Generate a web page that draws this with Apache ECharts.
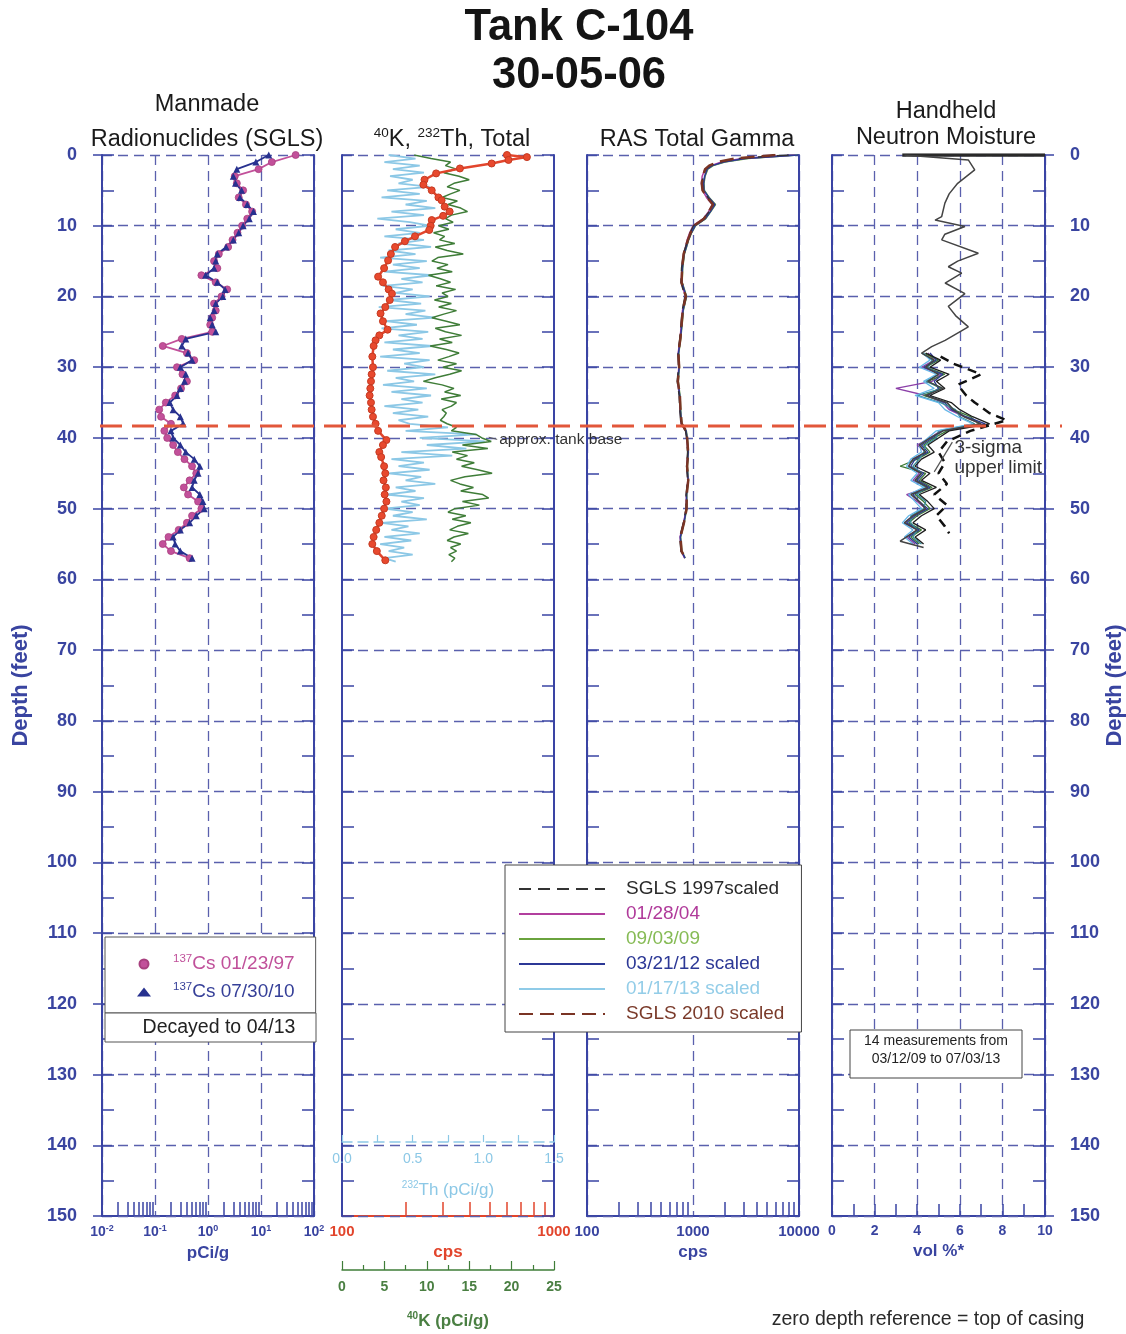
<!DOCTYPE html>
<html>
<head>
<meta charset="utf-8">
<title>Tank C-104 30-05-06</title>
<script src="https://cdn.jsdelivr.net/npm/echarts@6/dist/echarts.min.js"></script>
<style>
  html, body { margin: 0; padding: 0; background: #ffffff; }
  #chart { width: 1126px; height: 1334px; }
</style>
</head>
<body>
<div id="chart"></div>
<script>
// ---------------- data ----------------
// Manmade radionuclides (SGLS), 137Cs in pCi/g vs depth (ft)
const depthCs = [0,1,2,3,4,5,6,7,8,9,10,11,12,13,14,15,16,17,18,19,20,21,22,23,24,25,26,27,28,29,30,31,32,33,34,35,36,37,38,39,40,41,42,43,44,45,46,47,48,49,50,51,52,53,54,55,56,57];
const cs1997 = [45,16,9,3.2,3.5,4.6,3.8,5.2,6.8,5.5,4.4,3.6,2.9,2.4,1.6,1.3,1.5,0.75,1.4,2.3,1.8,1.3,1.4,1.2,1.1,1.2,0.32,0.14,0.4,0.55,0.26,0.33,0.40,0.31,0.24,0.16,0.12,0.13,0.20,0.15,0.17,0.22,0.27,0.36,0.5,0.6,0.45,0.35,0.42,0.65,0.75,0.5,0.4,0.28,0.18,0.14,0.2,0.45];
const cs2010 = [14,8,3.5,3.0,3.3,4.3,4.0,5.5,7.2,6.0,4.6,3.8,3.0,2.2,1.5,1.4,1.3,0.9,1.5,2.1,1.9,1.4,1.3,1.1,1.2,1.4,0.38,0.32,0.42,0.50,0.30,0.38,0.36,0.30,0.26,0.19,0.22,0.30,0.34,0.2,0.22,0.3,0.38,0.55,0.7,0.65,0.55,0.5,0.7,0.8,0.85,0.6,0.45,0.3,0.22,0.24,0.3,0.5];

// Total gamma (cps) vs depth
const depthTotal = [0,0.3,0.7,1.2,1.9,2.6,3.5,4.2,5,6,6.4,7.3,8,8.6,9.2,10,10.6,11.5,12.2,13,14,14.9,16,17.2,18,19,19.6,20.5,21.5,22.4,23.5,24.7,25.5,26.2,27,28.5,30,31,32,33,34,35,36,37,38,39,40.3,41,42,42.7,44,45,46,47,48,49,50,51,52,53,54,55,56,57.3];
const totalCps = [600,745,610,508,360,278,245,242,265,285,295,305,322,300,265,262,258,221,198,178,170,165,158,148,156,166,172,168,160,152,156,164,150,144,141,139,140,138,137,136,135,137,138,140,144,148,162,156,150,153,158,160,157,161,159,162,158,154,150,145,141,139,146,160];

// Natural radionuclides 40K and 232Th (pCi/g) vs depth
const depthNat = [0,0.5,1,1.5,2,2.5,3,3.5,4,4.5,5,5.5,6,6.5,7,7.5,8,8.5,9,9.5,10,10.5,11,11.5,12,12.5,13,13.5,14,14.5,15,15.5,16,16.5,17,17.5,18,18.5,19,19.5,20,20.5,21,21.5,22,22.5,23,23.5,24,24.5,25,25.5,26,26.5,27,27.5,28,28.5,29,29.5,30,30.5,31,31.5,32,32.5,33,33.5,34,34.5,35,35.5,36,36.5,37,37.5,38,38.5,39,39.5,40,40.5,41,41.5,42,42.5,43,43.5,44,44.5,45,45.5,46,46.5,47,47.5,48,48.5,49,49.5,50,50.5,51,51.5,52,52.5,53,53.5,54,54.5,55,55.5,56,56.5,57,57.5];
const k40 = [8.5,10.5,12.8,12.2,13.5,12.0,13.8,15.0,13.2,12.4,
  13.9,12.8,11.8,13.6,12.5,14.0,14.8,12.9,12.2,13.1,
  11.4,12.6,10.8,12.1,11.5,13.3,11.0,12.4,14.3,11.3,
  10.6,12.5,11.2,13.0,10.2,11.6,12.8,11.1,13.4,11.8,
  12.5,10.9,12.9,11.4,13.5,12.0,10.6,12.3,13.9,11.0,
  12.2,14.1,11.5,13.0,10.4,12.3,13.8,12.6,11.3,13.5,
  11.9,14.1,12.7,11.0,9.6,11.8,13.2,12.1,14.0,11.7,
  13.5,12.9,11.8,12.3,12.0,11.6,12.4,13.5,12.9,15.8,
  16.5,17.6,14.2,17.2,13.0,14.8,13.5,15.6,14.1,16.0,
  17.7,14.5,12.8,13.9,15.5,14.0,16.6,17.3,14.2,16.2,
  13.3,12.5,14.6,13.0,15.2,13.6,12.7,14.9,13.2,12.4,
  14.0,12.8,13.5,12.6,13.3,12.9];
const th232 = [0.33,0.52,0.30,0.55,0.36,0.58,0.34,0.50,0.40,0.62,
  0.32,0.55,0.28,0.60,0.45,0.66,0.35,0.58,0.25,0.48,
  0.62,0.38,0.55,0.30,0.58,0.40,0.63,0.33,0.52,0.27,
  0.60,0.36,0.55,0.30,0.64,0.42,0.57,0.29,0.50,0.38,
  0.62,0.33,0.56,0.26,0.59,0.45,0.66,0.31,0.53,0.28,
  0.61,0.40,0.57,0.30,0.64,0.36,0.55,0.27,0.62,0.44,
  0.58,0.32,0.66,0.38,0.51,0.29,0.60,0.35,0.63,0.42,
  0.57,0.30,0.54,0.36,0.61,0.40,0.48,0.75,0.45,0.95,
  0.55,1.01,0.60,0.88,0.42,0.78,0.35,0.58,0.40,0.62,
  0.33,0.56,0.45,0.66,0.38,0.52,0.31,0.58,0.42,0.55,
  0.30,0.50,0.36,0.60,0.28,0.47,0.35,0.55,0.30,0.49,
  0.27,0.44,0.33,0.50,0.30,0.38];

// RAS total gamma (cps) vs depth, one list per logging run
const depthRas = [0,0.5,1,1.5,2,3,4,5,6,7,8,9,10,11,12,13,14,16,18,20,22,24,26,28,30,32,34,36,38,39,40,42,44,46,48,50,52,54,56,57];
const rasSgls1997 = [8000,2600,1800,1450,1320,1250,1220,1240,1380,1560,1420,1260,1010,940,890,850,810,780,770,840,790,770,750,720,730,710,740,750,770,850,870,890,870,890,860,860,810,750,770,830];
const ras012804 = [9200,2900,1850,1480,1300,1220,1200,1230,1340,1520,1400,1250,1000,930,880,850,815,785,775,850,795,775,755,725,735,715,745,755,775,855,875,895,875,895,865,865,815,755,775,835];
const ras090309 = [9700,3300,2000,1550,1380,1300,1270,1280,1420,1630,1470,1320,1060,970,910,870,830,800,790,870,810,790,765,735,745,725,755,765,785,865,885,905,885,905,875,875,825,765,785,845];
const ras032112 = [9800,3100,1950,1520,1360,1290,1260,1270,1410,1610,1460,1310,1050,965,905,865,825,795,785,865,805,785,760,730,740,720,750,760,780,860,880,900,880,900,870,870,820,760,780,840];
const ras011713 = [9600,3050,1920,1510,1350,1285,1255,1265,1400,1600,1455,1305,1045,962,902,862,822,792,782,862,802,782,758,728,738,718,748,758,778,858,878,898,878,898,868,868,818,758,778,838];
const rasSgls2010 = [6000,2500,1700,1420,1300,1240,1210,1230,1360,1540,1410,1270,1020,950,895,855,815,790,780,855,800,780,760,728,740,720,752,762,782,862,880,900,880,902,872,870,822,762,780,842];

// Handheld neutron moisture (vol %) vs depth
const depthMoistLong = [0,0.7,2.1,4.0,5.5,6.8,8.7,9.2,10.1,11.2,12.0,13.9,15.0,15.8,16.7,18.1,19.6,21.4,22.7,24.3,26.2,27.1,28.0,29,30,31,32,33,34,35,36,37,38,39,40,41,42,43,44,45,46,47,48,49,50,51,52,53,54,54.6,55.5];
const moistLong = [3.4,6.4,6.7,5.9,5.5,5.3,5.15,4.84,6.24,5.3,5.15,6.87,5.9,5.46,6.09,5.31,6.24,5.46,5.8,6.4,5.31,4.68,4.21,4.8,4.4,5.0,4.5,5.2,4.4,5.4,5.7,6.2,7.0,5.2,4.6,4.1,4.4,3.8,3.6,4.2,3.9,4.5,3.7,4.1,4.4,3.8,3.4,4.0,3.5,3.2,4.3];
const depthSurface = [0, 0];
const moistSurface = [3.3, 10];
const depthMoistRuns = [28,29,30,31,32,33,34,35,36,37,38,39,40,41,42,43,44,45,46,47,48,49,50,51,52,53,54,55];
const moistRunA = [4.5,4.8,4.2,5.1,4.7,3.0,4.4,5.2,5.5,6.2,7.0,5.1,4.6,4.0,4.4,3.8,3.6,4.1,3.8,4.5,3.5,4.0,4.4,3.8,3.4,4.0,3.5,3.9];
const moistRunB = [4.3,5.0,4.4,5.3,4.5,5.1,4.3,5.4,5.7,6.5,6.9,5.4,4.8,4.3,4.6,4.0,3.2,4.4,4.1,4.7,3.9,4.3,4.6,4.0,3.6,4.2,3.7,4.1];
const moistRunC = [4.6,4.9,4.3,5.2,4.8,5.0,4.5,5.3,5.6,6.3,7.2,5.2,4.7,4.2,4.5,3.9,3.7,4.3,4.0,4.6,3.8,4.1,4.5,3.9,3.5,4.1,3.6,4.0];
const moistRunD = [4.2,4.7,4.5,5.0,4.4,5.2,4.0,5.1,5.8,6.0,6.7,5.0,4.9,4.4,4.3,4.1,3.8,4.2,3.9,4.4,4.0,4.4,4.3,3.7,3.7,4.0,3.8,4.2];
const moistRunE = [4.4,5.1,4.6,5.5,4.9,5.3,4.6,5.6,6.0,6.6,7.4,5.5,5.0,4.5,4.8,4.2,3.9,4.6,4.2,4.9,4.1,4.5,4.8,4.2,3.8,4.4,3.9,4.3];
const moistRunF = [4.3,4.6,4.1,4.9,4.3,4.8,3.9,5.0,5.3,5.9,6.6,4.9,4.5,4.1,4.2,3.7,3.5,4.0,3.7,4.3,3.6,3.9,4.2,3.6,3.3,3.8,3.4,3.8];
const depthSigma = [28.5,29.5,31,32.5,34,35,36.5,37.5,39,40.5,42,43.5,45,46.5,48,49.5,51,52.5,53.5];
const moistSigma = [5.1,5.7,7.0,5.9,6.3,6.7,7.4,8.2,6.5,5.4,5.0,5.3,5.0,5.4,4.8,5.4,4.9,5.3,5.5];

// Reference depth of the tank base (ft)
const tankBaseDepth = 38.3;

// Axis tick values
const depthTicks = [0, 150];
const pciMinorTicks = [0.02,0.03,0.04,0.05,0.06,0.07,0.08,0.09,0.2,0.3,0.4,0.5,0.6,0.7,0.8,0.9,2,3,4,5,6,7,8,9,20,30,40,50,60,70,80,90];
const cpsMinorTicks1 = [200,300,400,500,600,700,800,900];
const cpsMinorTicks2 = [200,300,400,500,600,700,800,900,2000,3000,4000,5000,6000,7000,8000,9000];

// ---------------- styling ----------------
const FONT = '"Liberation Sans", Arial, Helvetica, sans-serif';
const AXIS_BLUE = '#3a44a4';
const GRID_DASH = '#5a60ad';
const LABEL_BLUE = '#3944a0';
const RED = '#e2452c';
const K_GREEN = '#3f7d38';
const TH_BLUE = '#8cc8e6';
const PINK = '#c2509a';
const NAVY = '#27318f';

const dashedSplit = { show: true, lineStyle: { color: GRID_DASH, width: 1.3, type: [10, 6] } };
const blueTick = { color: AXIS_BLUE, width: 1.5 };
const pairs = (xs, ys) => xs.map((x, i) => [x, ys[i]]);

const panels = [
  { left: 102, width: 212 },
  { left: 342, width: 212 },
  { left: 587, width: 212 },
  { left: 832, width: 213 }
];
const grid = panels.map(p => ({
  left: p.left, width: p.width, top: 155, height: 1061,
  containLabel: false, outerBoundsMode: 'none', show: false
}));

// depth axes: two framed sides per panel, plus labelled outer axes
const yAxis = [];
const yMain = [];
function depthAxis(g, pos, split) {
  return {
    gridIndex: g, type: 'value', inverse: true, min: depthTicks[0], max: depthTicks[1], interval: 10, position: pos,
    axisLine: { show: true, onZero: false, lineStyle: { color: AXIS_BLUE, width: 2 } },
    axisTick: { show: true, inside: true, length: 12, lineStyle: blueTick },
    minorTick: { show: true, splitNumber: 2, length: 12, lineStyle: blueTick },
    axisLabel: { show: false },
    splitLine: split ? dashedSplit : { show: false },
    z: 2
  };
}
function depthLabelAxis(g, pos, nameGap) {
  return {
    gridIndex: g, type: 'value', inverse: true, min: depthTicks[0], max: depthTicks[1], interval: 10, position: pos,
    axisLine: { show: false, onZero: false },
    axisTick: { show: true, inside: false, length: 9, lineStyle: blueTick },
    axisLabel: { show: true, margin: 25, color: LABEL_BLUE, fontSize: 18, fontWeight: 'bold', fontFamily: FONT },
    splitLine: { show: false },
    name: 'Depth (feet)', nameLocation: 'middle', nameRotate: 90, nameGap: nameGap,
    nameTextStyle: { color: LABEL_BLUE, fontSize: 22, fontWeight: 'bold', fontFamily: FONT }
  };
}
panels.forEach((p, g) => {
  yMain.push(yAxis.length);
  yAxis.push(depthAxis(g, 'left', true));
  yAxis.push(depthAxis(g, 'right', false));
});
yAxis.push(depthLabelAxis(0, 'left', 70));
yAxis.push(depthLabelAxis(3, 'right', 52));

// horizontal axes
const boldLabel = (color, size) => ({ color: color, fontSize: size || 14, fontWeight: 'bold', fontFamily: FONT });
const supRich = (color, size) => ({
  s: { fontSize: size, fontWeight: 'bold', fontFamily: FONT, color: color, verticalAlign: 'top', lineHeight: size }
});
const xAxis = [];
const X = {};
// panel 1: 137Cs, log pCi/g
X.cs = xAxis.length;
xAxis.push({
  gridIndex: 0, type: 'log', logBase: 10, min: 0.01, max: 100, position: 'bottom',
  axisLine: { show: true, onZero: false, lineStyle: { color: AXIS_BLUE, width: 2 } },
  axisTick: { show: false },
  splitLine: dashedSplit,
  axisLabel: Object.assign(boldLabel(LABEL_BLUE), {
    margin: 8, lineHeight: 16,
    formatter: v => '10{s|' + Math.round(Math.log10(v)) + '}',
    rich: supRich(LABEL_BLUE, 9)
  }),
  name: 'pCi/g', nameLocation: 'middle', nameGap: 25,
  nameTextStyle: { color: LABEL_BLUE, fontSize: 17, fontWeight: 'bold', fontFamily: FONT }
});
xAxis.push({
  gridIndex: 0, type: 'log', logBase: 10, min: 0.01, max: 100, position: 'bottom',
  axisLine: { show: false, onZero: false }, axisLabel: { show: false }, splitLine: { show: false },
  axisTick: { show: true, inside: true, length: 14, customValues: pciMinorTicks, lineStyle: blueTick }
});
// panel 2: total cps (log), 40K and 232Th (linear)
X.total = xAxis.length;
xAxis.push({
  gridIndex: 1, type: 'log', logBase: 10, min: 100, max: 1000, position: 'bottom',
  axisLine: { show: true, onZero: false, lineStyle: { color: RED, width: 2 } },
  axisTick: { show: false }, splitLine: { show: false },
  axisLabel: Object.assign(boldLabel(RED, 15), { margin: 8, formatter: v => String(Math.round(v)) }),
  name: 'cps', nameLocation: 'middle', nameGap: 17,
  nameTextStyle: { color: RED, fontSize: 17, fontWeight: 'bold', fontFamily: FONT }
});
xAxis.push({
  gridIndex: 1, type: 'log', logBase: 10, min: 100, max: 1000, position: 'bottom',
  axisLine: { show: false, onZero: false }, axisLabel: { show: false }, splitLine: { show: false },
  axisTick: { show: true, inside: true, length: 14, customValues: cpsMinorTicks1, lineStyle: { color: RED, width: 1.5 } }
});
X.k = xAxis.length;
xAxis.push({
  gridIndex: 1, type: 'value', min: 0, max: 25, interval: 5, position: 'bottom', offset: 54,
  axisLine: { show: true, onZero: false, lineStyle: { color: K_GREEN, width: 1.5 } },
  axisTick: { show: true, inside: true, length: 9, lineStyle: { color: K_GREEN, width: 1.2 } },
  minorTick: { show: true, splitNumber: 2, length: 5, lineStyle: { color: K_GREEN, width: 1.2 } },
  splitLine: { show: false },
  axisLabel: Object.assign(boldLabel('#4a7f42'), { margin: 10 }),
  name: '{s|40}K (pCi/g)', nameLocation: 'middle', nameGap: 41,
  nameTextStyle: { color: '#4a7f42', fontSize: 17, fontWeight: 'bold', fontFamily: FONT, lineHeight: 20,
    rich: supRich('#4a7f42', 10) }
});
X.th = xAxis.length;
xAxis.push({
  gridIndex: 1, type: 'value', min: 0, max: 1.5, interval: 0.5, position: 'bottom', offset: -74,
  axisLine: { show: true, onZero: false, lineStyle: { color: TH_BLUE, width: 1.5, type: [10, 6] } },
  axisTick: { show: true, inside: true, length: 7, lineStyle: { color: TH_BLUE, width: 1.2 } },
  minorTick: { show: true, splitNumber: 2, length: 7, lineStyle: { color: TH_BLUE, width: 1.2 } },
  splitLine: { show: false },
  axisLabel: { color: TH_BLUE, fontSize: 14, fontFamily: FONT, margin: 10, formatter: v => v.toFixed(1) },
  name: '{s|232}Th (pCi/g)', nameLocation: 'middle', nameGap: 38,
  nameTextStyle: { color: TH_BLUE, fontSize: 17, fontFamily: FONT, lineHeight: 20,
    rich: { s: { fontSize: 10, fontFamily: FONT, color: TH_BLUE, verticalAlign: 'top', lineHeight: 10 } } },
  z: 3
});
// panel 3: RAS total gamma, log cps
X.ras = xAxis.length;
xAxis.push({
  gridIndex: 2, type: 'log', logBase: 10, min: 100, max: 10000, position: 'bottom',
  axisLine: { show: true, onZero: false, lineStyle: { color: AXIS_BLUE, width: 2 } },
  axisTick: { show: false }, splitLine: dashedSplit,
  axisLabel: Object.assign(boldLabel(LABEL_BLUE, 15), { margin: 8, formatter: v => String(Math.round(v)) }),
  name: 'cps', nameLocation: 'middle', nameGap: 25,
  nameTextStyle: { color: LABEL_BLUE, fontSize: 17, fontWeight: 'bold', fontFamily: FONT }
});
xAxis.push({
  gridIndex: 2, type: 'log', logBase: 10, min: 100, max: 10000, position: 'bottom',
  axisLine: { show: false, onZero: false }, axisLabel: { show: false }, splitLine: { show: false },
  axisTick: { show: true, inside: true, length: 14, customValues: cpsMinorTicks2, lineStyle: blueTick }
});
// panel 4: neutron moisture, vol %
X.moist = xAxis.length;
xAxis.push({
  gridIndex: 3, type: 'value', min: 0, max: 10, interval: 2, position: 'bottom',
  axisLine: { show: true, onZero: false, lineStyle: { color: AXIS_BLUE, width: 2 } },
  axisTick: { show: true, inside: true, length: 12, lineStyle: blueTick },
  minorTick: { show: true, splitNumber: 2, length: 12, lineStyle: blueTick },
  splitLine: dashedSplit,
  axisLabel: Object.assign(boldLabel(LABEL_BLUE), { margin: 8 }),
  name: 'vol %*', nameLocation: 'middle', nameGap: 24,
  nameTextStyle: { color: LABEL_BLUE, fontSize: 17, fontWeight: 'bold', fontFamily: FONT }
});

// ---------------- series ----------------
function trace(name, xi, yi, xs, ys, color, width, extra) {
  return Object.assign({
    type: 'line', name: name, xAxisIndex: xi, yAxisIndex: yi,
    data: pairs(xs, ys), symbol: 'none', smooth: false,
    lineStyle: { color: color, width: width }, itemStyle: { color: color },
    emphasis: { disabled: true }, silent: true, z: 3
  }, extra || {});
}
const rasNames = ['SGLS 1997scaled', '01/28/04', '09/03/09', '03/21/12 scaled', '01/17/13 scaled', 'SGLS 2010 scaled'];
const rasColors = ['#333333', '#b23f9e', '#6aa33e', '#2c3896', '#8fcbe8', '#7a3424'];
const rasText = ['#2a2a2a', '#b03a9a', '#86bb55', '#2c3896', '#93cde8', '#7a3a2a'];

const series = [
  trace('137Cs 01/23/97', X.cs, yMain[0], cs1997, depthCs, PINK, 1.8,
    { symbol: 'circle', symbolSize: 7, itemStyle: { color: PINK, borderColor: '#a8407f', borderWidth: 0.8 } }),
  trace('137Cs 07/30/10', X.cs, yMain[0], cs2010, depthCs, NAVY, 1.8,
    { symbol: 'triangle', symbolSize: 7, itemStyle: { color: NAVY } }),

  trace('232Th', X.th, yMain[1], th232, depthNat, TH_BLUE, 1.8),
  trace('40K', X.k, yMain[1], k40, depthNat, K_GREEN, 1.5),
  trace('Total', X.total, yMain[1], totalCps, depthTotal, RED, 2.5,
    { symbol: 'circle', symbolSize: 7, itemStyle: { color: '#e8492e', borderColor: '#c53a22', borderWidth: 1 }, z: 4 }),

  trace(rasNames[4], X.ras, yMain[2], ras011713, depthRas, rasColors[4], 1.5),
  trace(rasNames[2], X.ras, yMain[2], ras090309, depthRas, rasColors[2], 1.5),
  trace(rasNames[1], X.ras, yMain[2], ras012804, depthRas, rasColors[1], 1.5),
  trace(rasNames[3], X.ras, yMain[2], ras032112, depthRas, rasColors[3], 1.5),
  trace(rasNames[0], X.ras, yMain[2], rasSgls1997, depthRas, rasColors[0], 1.5,
    { lineStyle: { color: rasColors[0], width: 1.5, type: [12, 7] } }),
  trace(rasNames[5], X.ras, yMain[2], rasSgls2010, depthRas, rasColors[5], 2.5,
    { lineStyle: { color: rasColors[5], width: 2.5, type: [14, 7] } }),

  trace('surface', X.moist, yMain[3], moistSurface, depthSurface, '#2a2a2a', 3.5),
  trace('run A', X.moist, yMain[3], moistRunA, depthMoistRuns, '#8b3fa8', 1.3),
  trace('run B', X.moist, yMain[3], moistRunB, depthMoistRuns, '#3e7a36', 1.3),
  trace('run C', X.moist, yMain[3], moistRunC, depthMoistRuns, '#2b3990', 1.3),
  trace('run D', X.moist, yMain[3], moistRunD, depthMoistRuns, '#3a8f9a', 1.3),
  trace('run F', X.moist, yMain[3], moistRunF, depthMoistRuns, '#66b8e8', 1.3),
  trace('run E', X.moist, yMain[3], moistRunE, depthMoistRuns, '#1e1e1e', 1.3),
  trace('long run', X.moist, yMain[3], moistLong, depthMoistLong, '#444444', 1.5),
  trace('3-sigma', X.moist, yMain[3], moistSigma, depthSigma, '#111111', 2.5,
    { lineStyle: { color: '#111111', width: 2.5, type: [9, 6] } })
];

// ---------------- legends ----------------
const hiddenSymbol = { color: 'rgba(0,0,0,0)', borderColor: 'rgba(0,0,0,0)', borderWidth: 0, opacity: 0 };
const legend = [
  {
    orient: 'vertical', left: 105, top: 937, padding: [16, 21, 10, 32], itemGap: 6,
    itemWidth: 14, itemHeight: 9, selectedMode: false,
    backgroundColor: '#ffffff', borderColor: '#555555', borderWidth: 1,
    textStyle: { fontSize: 19, fontFamily: FONT, lineHeight: 22, padding: [0, 0, 0, 17],
      rich: { s: { fontSize: 11.5, fontFamily: FONT, verticalAlign: 'top', lineHeight: 11 } } },
    formatter: name => '{s|137}' + name.replace('137', ''),
    data: [
      { name: '137Cs 01/23/97', icon: 'circle', itemStyle: { color: PINK }, textStyle: { color: '#c0509a' } },
      { name: '137Cs 07/30/10', icon: 'triangle', itemStyle: { color: NAVY }, textStyle: { color: '#353f98' } }
    ]
  },
  {
    orient: 'vertical', left: 505, top: 865, padding: [14, 17, 8, 13], itemGap: 5,
    itemWidth: 86, itemHeight: 14, selectedMode: false,
    backgroundColor: '#ffffff', borderColor: '#444444', borderWidth: 1,
    itemStyle: hiddenSymbol,
    textStyle: { fontSize: 19, fontFamily: FONT, lineHeight: 20, padding: [0, 0, 0, 16] },
    data: rasNames.map((n, i) => ({ name: n, itemStyle: hiddenSymbol, textStyle: { color: rasText[i] } }))
  }
];

const option = {
  backgroundColor: '#ffffff',
  animation: false,
  title: {
    text: 'Tank C-104\n30-05-06', left: 574, top: -1, textAlign: 'center',
    textStyle: { fontSize: 43.5, fontWeight: 'bold', fontFamily: FONT, color: '#141414', lineHeight: 48 }
  },
  grid: grid,
  xAxis: xAxis,
  yAxis: yAxis,
  legend: legend,
  series: series
};

const chart = echarts.init(document.getElementById('chart'), null, { renderer: 'canvas' });
chart.setOption(option);

// ---------------- annotations ----------------
function txt(id, x, y, text, size, color, extra) {
  return {
    type: 'text', id: id, x: x, y: y, z: 100,
    style: Object.assign({
      text: text, fontSize: size, fontFamily: FONT, fill: color,
      align: 'center', verticalAlign: 'middle', textAlign: 'center', textVerticalAlign: 'middle'
    }, extra || {})
  };
}
const px = (xi, yi, pt) => chart.convertToPixel({ xAxisIndex: xi, yAxisIndex: yi }, pt);
const baseLeft = px(X.cs, yMain[0], [0.01, tankBaseDepth]);
const baseRight = px(X.moist, yMain[3], [10, tankBaseDepth]);
const noteAnchor = px(X.k, yMain[1], [18.3, 40.2]);
const noteFrom = px(X.k, yMain[1], [17.3, 39.9]);
const sigmaText = px(X.moist, yMain[3], [5.75, 40.0]);
const sigmaFrom = px(X.moist, yMain[3], [5.65, 40.6]);
const sigmaTo = px(X.moist, yMain[3], [4.8, 44.8]);
const supTitle = { s: { fontSize: 13.5, fontFamily: FONT, fill: '#1a1a1a', verticalAlign: 'top', lineHeight: 13 } };

chart.setOption({
  graphic: [
    txt('t1', 207, 105, 'Manmade', 23.5, '#1a1a1a'),
    txt('t2', 207, 140, 'Radionuclides (SGLS)', 23.5, '#1a1a1a'),
    txt('t3', 452, 140, '{s|40}K, {s|232}Th, Total', 23.5, '#1a1a1a', { rich: supTitle, lineHeight: 27 }),
    txt('t4', 697, 140, 'RAS Total Gamma', 23.5, '#1a1a1a'),
    txt('t5', 946, 112, 'Handheld', 23.5, '#1a1a1a'),
    txt('t6', 946, 138, 'Neutron Moisture', 23.5, '#1a1a1a'),
    {
      type: 'line', id: 'tankBase', z: 90,
      shape: { x1: baseLeft[0] - 2, y1: baseLeft[1], x2: baseRight[0] + 17, y2: baseRight[1] },
      style: { stroke: '#e2573a', lineWidth: 3, lineDash: [22, 10] }
    },
    {
      type: 'line', id: 'noteLeader', z: 95,
      shape: { x1: noteFrom[0], y1: noteFrom[1], x2: noteAnchor[0], y2: noteAnchor[1] },
      style: { stroke: '#555555', lineWidth: 1 }
    },
    txt('approx', noteAnchor[0] + 2, noteAnchor[1], 'approx. tank base', 15.5, '#333333',
      { align: 'left', textAlign: 'left' }),
    {
      type: 'line', id: 'sigmaLeader', z: 95,
      shape: { x1: sigmaFrom[0], y1: sigmaFrom[1], x2: sigmaTo[0], y2: sigmaTo[1] },
      style: { stroke: '#555555', lineWidth: 1.2 }
    },
    txt('sigma', sigmaText[0], sigmaText[1], '3-sigma\nupper limit', 19, '#333333',
      { align: 'left', textAlign: 'left', verticalAlign: 'top', textVerticalAlign: 'top', lineHeight: 20 }),
    {
      type: 'rect', id: 'decayBox', z: 80,
      shape: { x: 105, y: 1013, width: 211, height: 29 },
      style: { fill: '#ffffff', stroke: '#555555', lineWidth: 1 }
    },
    txt('decay', 219, 1028, 'Decayed to 04/13', 19.5, '#222222'),
    {
      type: 'rect', id: 'runsBox', z: 80,
      shape: { x: 850, y: 1030, width: 172, height: 48 },
      style: { fill: '#ffffff', stroke: '#444444', lineWidth: 1 }
    },
    txt('runs', 936, 1050, '14 measurements from\n03/12/09 to 07/03/13', 14, '#222222', { lineHeight: 18 }),
    txt('zero', 928, 1320, 'zero depth reference = top of casing', 19.5, '#2a2a2a')
  ]
});
</script>
</body>
</html>
